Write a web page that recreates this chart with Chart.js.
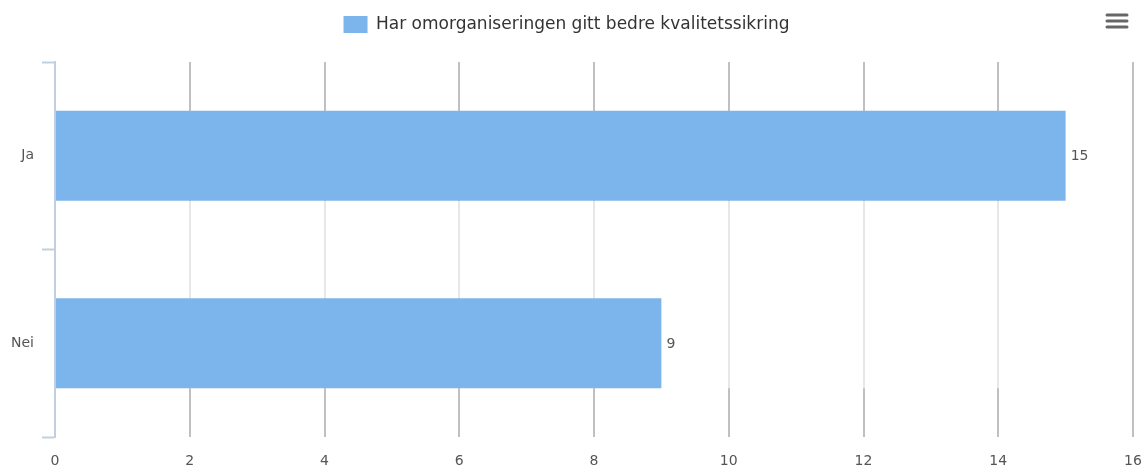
<!DOCTYPE html>
<html>
<head>
<meta charset="utf-8">
<script src="https://cdn.jsdelivr.net/npm/chart.js@4"></script>
<style>
  html, body { margin: 0; padding: 0; background: #fff; }
  #wrap { width: 1144px; height: 466px; position: relative; }
</style>
</head>
<body>
<div id="wrap"><canvas id="KvalitetChart"></canvas></div>
<script>
const categories = ['Ja', 'Nei'];
const seriesName = 'Har omorganiseringen gitt bedre kvalitetssikring';
const seriesValues = [15, 9];
const xTicks = [0, 2, 4, 6, 8, 10, 12, 14, 16];

const fontFamily = '"DejaVu Sans", "Lucida Grande", sans-serif';

// fixes the legend block height so the plot starts where it should
const legendHeight = {
  id: 'legendHeight',
  beforeInit(chart) {
    const fit = chart.legend.fit;
    chart.legend.fit = function () {
      fit.bind(chart.legend)();
      this.height = 62;
    };
  }
};

// gridlines look faded from the first bar down to the second bar's bottom
const fadeGap = {
  id: 'fadeGap',
  beforeDatasetsDraw(chart) {
    const meta = chart.getDatasetMeta(0);
    const a = meta.data[0], b = meta.data[1];
    if (!a || !b) return;
    const area = chart.chartArea;
    const top = a.y + a.height / 2;
    const bottom = b.y + b.height / 2;
    const c = chart.ctx;
    c.save();
    c.fillStyle = 'rgba(255,255,255,0.62)';
    c.fillRect(area.left + 2, top, area.right - area.left - 6, bottom - top);
    c.restore();
  }
};

// value labels at the end of each bar
const valueLabels = {
  id: 'valueLabels',
  afterDatasetsDraw(chart) {
    const c = chart.ctx;
    const meta = chart.getDatasetMeta(0);
    c.save();
    c.font = '14px ' + fontFamily;
    c.fillStyle = '#555';
    c.textAlign = 'left';
    c.textBaseline = 'middle';
    meta.data.forEach((bar, i) => {
      c.fillText(String(seriesValues[i]), bar.x + 5, bar.y + 1);
    });
    c.restore();
  }
};

// hamburger menu icon in the top right corner
const menuIcon = {
  id: 'menuIcon',
  afterDraw(chart) {
    const c = chart.ctx;
    c.save();
    c.strokeStyle = '#666';
    c.lineWidth = 3;
    c.lineCap = 'round';
    [15, 21, 27].forEach(y => {
      c.beginPath();
      c.moveTo(1107, y);
      c.lineTo(1127, y);
      c.stroke();
    });
    c.restore();
  }
};

const ctx = document.getElementById('KvalitetChart');

new Chart(ctx, {
  type: 'bar',
  data: {
    labels: categories,
    datasets: [{
      label: seriesName,
      data: seriesValues,
      backgroundColor: '#7cb5ec',
      borderWidth: 0,
      categoryPercentage: 0.8,
      barPercentage: 0.6
    }]
  },
  options: {
    indexAxis: 'y',
    responsive: true,
    maintainAspectRatio: false,
    animation: false,
    layout: { padding: { left: 0, right: 11, top: 0, bottom: 0 } },
    plugins: {
      legend: {
        display: true,
        position: 'top',
        labels: {
          boxWidth: 24,
          boxHeight: 17,
          color: '#333',
          font: { family: fontFamily, size: 17 },
          padding: 16
        }
      },
      tooltip: { enabled: false }
    },
    scales: {
      x: {
        min: 0,
        max: 16,
        afterBuildTicks(scale) {
          scale.ticks = xTicks.map(v => ({ value: v }));
        },
        afterFit(scale) {
          scale.height = 29;
          scale.paddingRight = 0;
          scale.paddingLeft = 0;
        },
        border: { display: false },
        grid: {
          color: ctx => ctx.index === 0 ? 'rgba(0,0,0,0)' : '#c0c0c0',
          lineWidth: 2,
          drawTicks: false
        },
        ticks: {
          color: '#555',
          font: { family: fontFamily, size: 14 },
          padding: 16
        }
      },
      y: {
        afterFit(scale) { scale.width = 55; },
        border: { display: true, color: '#c0d0e0', width: 2 },
        grid: {
          offset: true,
          drawOnChartArea: false,
          drawTicks: true,
          tickLength: 13,
          tickColor: '#c0d0e0',
          tickWidth: 2
        },
        ticks: {
          color: '#555',
          font: { family: fontFamily, size: 14 },
          padding: 8
        }
      }
    }
  },
  plugins: [legendHeight, fadeGap, valueLabels, menuIcon]
});
</script>
</body>
</html>
